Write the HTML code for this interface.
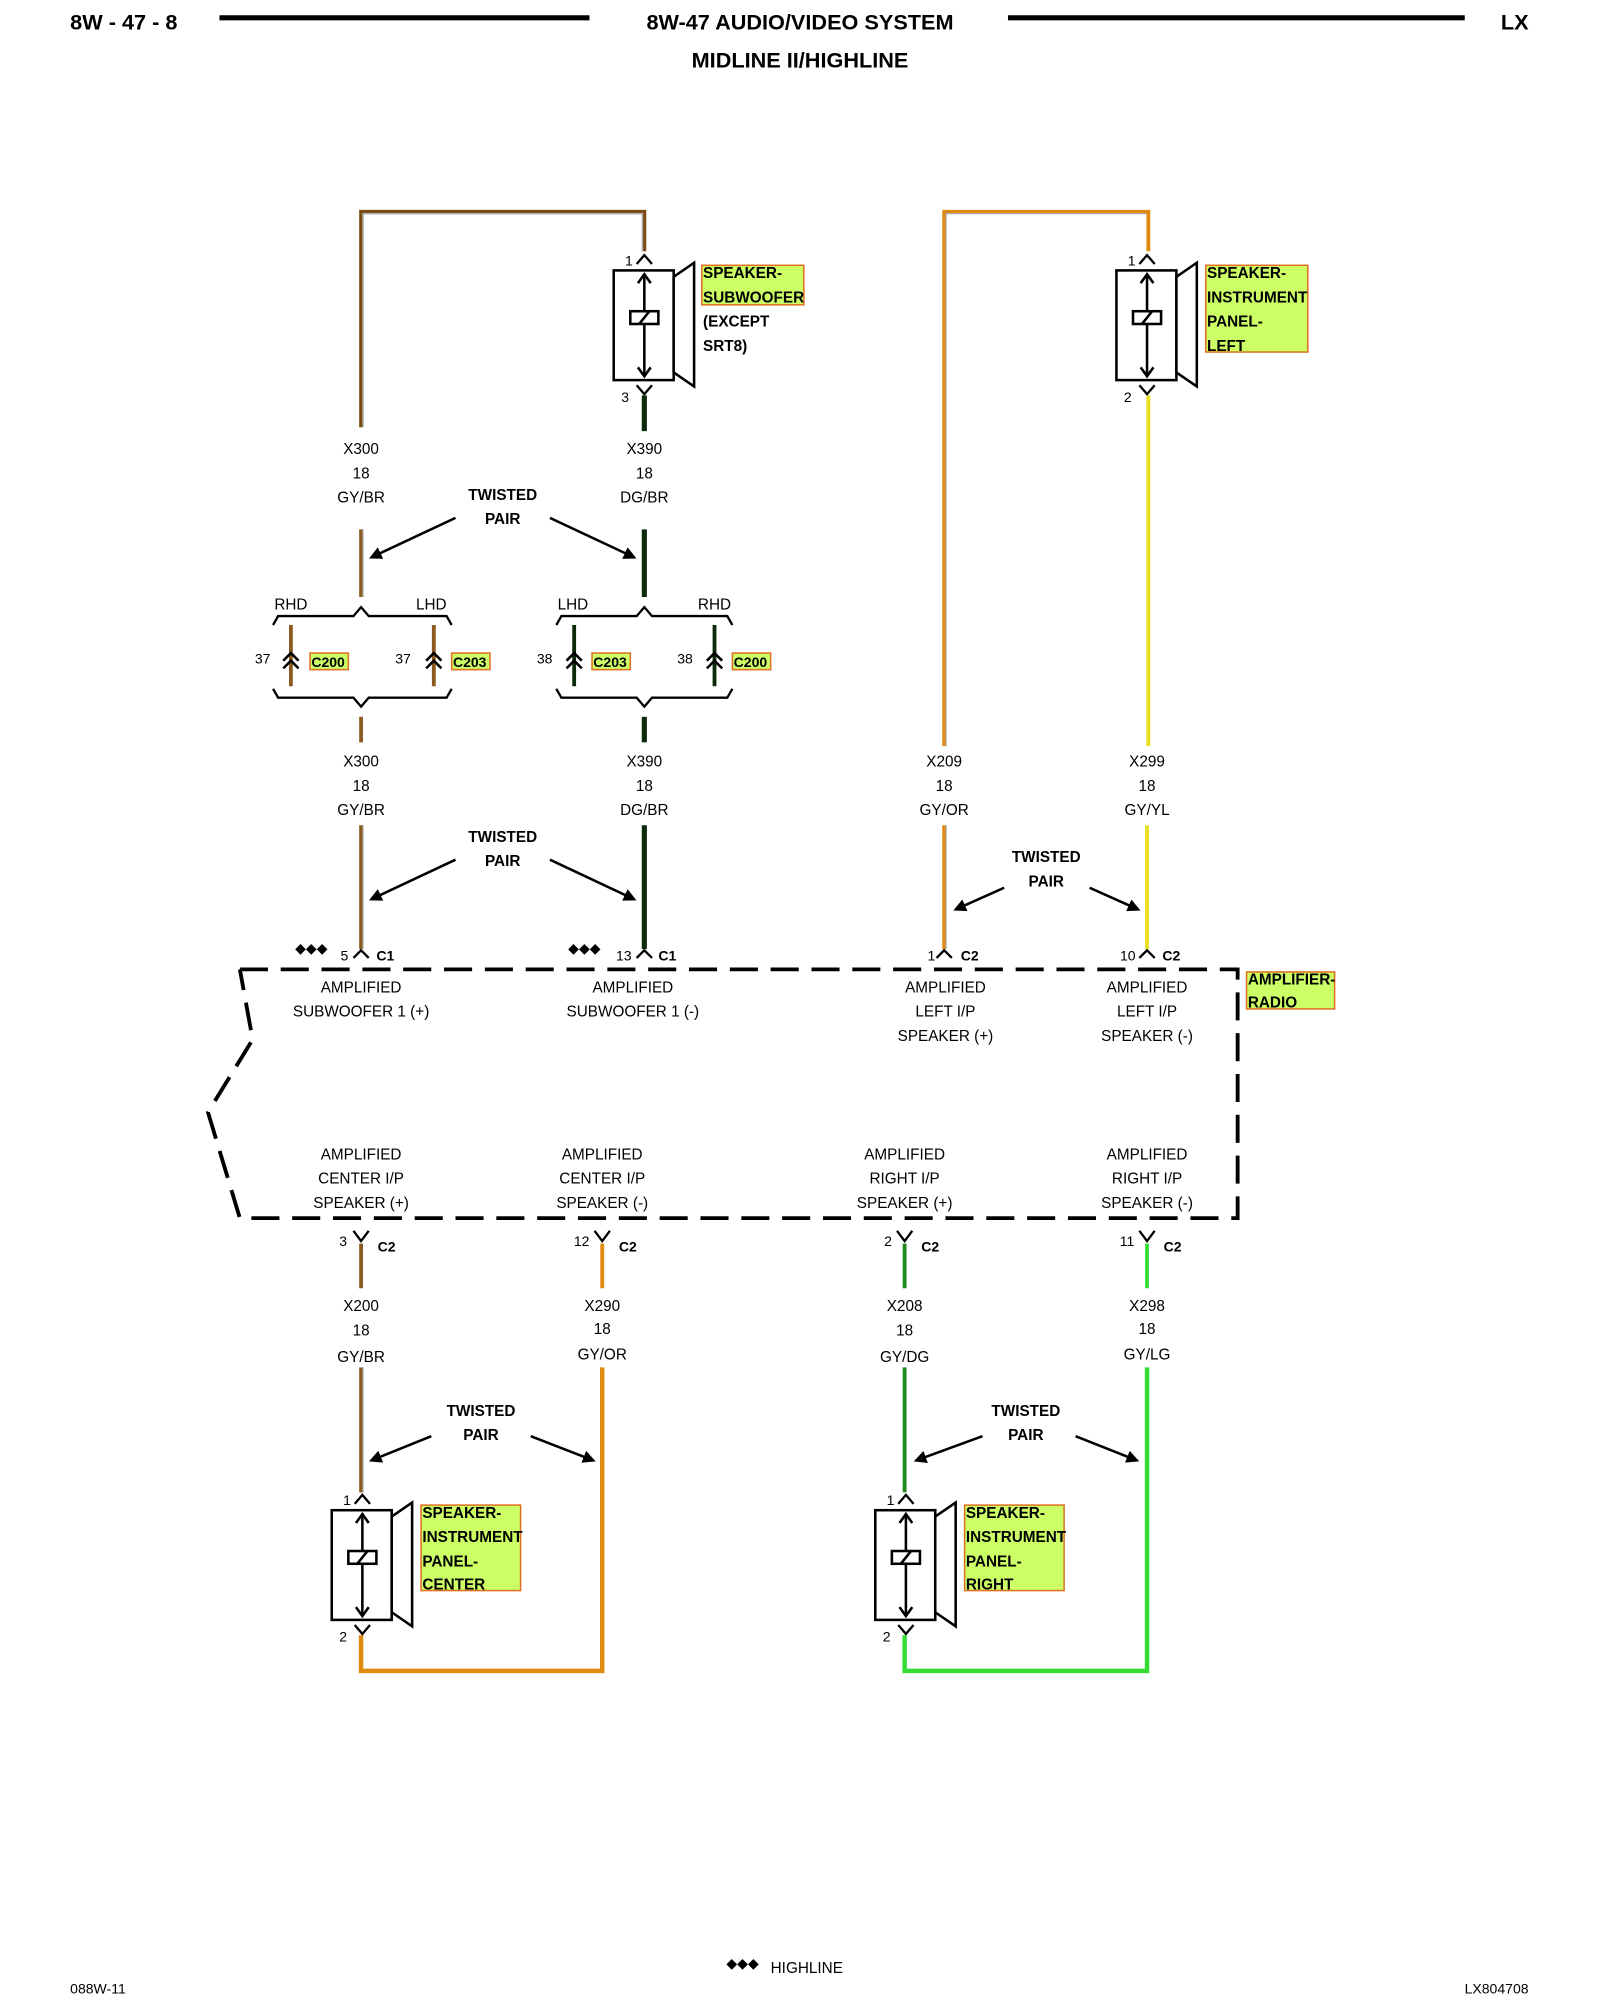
<!DOCTYPE html>
<html><head><meta charset="utf-8"><style>
html,body{margin:0;padding:0;background:#fff;}
svg{display:block;}
text{font-family:"Liberation Sans",sans-serif;fill:#000;}
.l{font-size:12px;text-anchor:middle;}
.b{font-weight:bold;}
.t{font-size:12px;font-weight:bold;text-anchor:middle;}
.k{font-size:11px;}
.lab{font-size:12px;font-weight:bold;}
</style></head><body>
<svg width="1600" height="2000" viewBox="0 0 1254 1568" preserveAspectRatio="none" xmlns="http://www.w3.org/2000/svg">
<defs>
<g id="spk" fill="none" stroke="#000" stroke-width="2">
<rect x="-24" y="0" width="47" height="86" fill="#fff"/>
<polygon points="23,5 39,-6 39,91 23,80" fill="#fff"/>
<line x1="0" y1="3" x2="0" y2="83"/>
<polyline points="-5,10 0,3 5,10"/>
<polyline points="-5,76 0,83 5,76"/>
<rect x="-11" y="32" width="22" height="10" fill="#fff"/>
<line x1="-4" y1="42" x2="4" y2="32"/>
</g>
<g id="dc" fill="none" stroke="#000" stroke-width="2">
<polyline points="-6,-2 0,-8 6,-2"/><polyline points="-6,4 0,-2 6,4"/>
</g>
<marker id="ah" markerWidth="10" markerHeight="10" refX="8" refY="5" orient="auto" markerUnits="userSpaceOnUse" viewBox="0 0 10 10"><path d="M0,0 L10,5 L0,10 z" fill="#000"/></marker>
</defs>

<!-- header -->
<text x="55" y="23" class="b" font-size="17">8W - 47 - 8</text>
<line x1="172" y1="14" x2="462" y2="14" stroke="#000" stroke-width="4"/>
<text x="627" y="23" class="b" font-size="17" text-anchor="middle">8W-47 AUDIO/VIDEO SYSTEM</text>
<line x1="790" y1="14" x2="1148" y2="14" stroke="#000" stroke-width="4"/>
<text x="1198" y="23" class="b" font-size="17" text-anchor="end">LX</text>
<text x="627" y="53" class="b" font-size="17" text-anchor="middle">MIDLINE II/HIGHLINE</text>

<g fill="none" stroke-linejoin="miter">
<polyline points="283,335 283,166 505,166 505,197" stroke="#7a4a10" stroke-width="3"/>
<polyline points="284.5,335 284.5,167.5 503.5,167.5 503.5,197" stroke="#aaa" stroke-width="1.2"/>
<line x1="505" y1="310" x2="505" y2="338" stroke="#0a2a0a" stroke-width="4"/>
<line x1="283" y1="415" x2="283" y2="468" stroke="#8a5a20" stroke-width="3"/>
<line x1="284.5" y1="415" x2="284.5" y2="468" stroke="#aaa" stroke-width="1"/>
<line x1="505" y1="415" x2="505" y2="468" stroke="#0a2a0a" stroke-width="4"/>
<line x1="283" y1="562" x2="283" y2="582" stroke="#8a5a20" stroke-width="3"/>
<line x1="505" y1="562" x2="505" y2="582" stroke="#0a2a0a" stroke-width="4"/>
<line x1="283" y1="647" x2="283" y2="744" stroke="#8a5a20" stroke-width="3"/>
<line x1="284.5" y1="647" x2="284.5" y2="744" stroke="#aaa" stroke-width="1"/>
<line x1="505" y1="647" x2="505" y2="744" stroke="#0a2a0a" stroke-width="4"/>
<line x1="228" y1="490" x2="228" y2="538" stroke="#8a5a20" stroke-width="3"/>
<line x1="340" y1="490" x2="340" y2="538" stroke="#8a5a20" stroke-width="3"/>
<line x1="450" y1="490" x2="450" y2="538" stroke="#0a2a0a" stroke-width="3"/>
<line x1="560" y1="490" x2="560" y2="538" stroke="#0a2a0a" stroke-width="3"/>

<polyline points="740,585 740,166 900,166 900,197" stroke="#e08a10" stroke-width="3"/>
<polyline points="741.5,585 741.5,167.5 898.5,167.5" stroke="#aaa" stroke-width="1"/>
<line x1="900" y1="310" x2="900" y2="585" stroke="#e8e020" stroke-width="3"/>
<line x1="740" y1="647" x2="740" y2="744" stroke="#e08a10" stroke-width="3"/>
<line x1="741.5" y1="647" x2="741.5" y2="744" stroke="#aaa" stroke-width="1"/>
<line x1="899" y1="647" x2="899" y2="744" stroke="#e8e020" stroke-width="3"/>

<line x1="283" y1="975" x2="283" y2="1010" stroke="#8a5a20" stroke-width="3"/>
<line x1="472" y1="975" x2="472" y2="1010" stroke="#e08a10" stroke-width="3"/>
<line x1="709" y1="975" x2="709" y2="1010" stroke="#1a8a1a" stroke-width="3"/>
<line x1="899" y1="975" x2="899" y2="1010" stroke="#33dd33" stroke-width="3"/>
<line x1="283" y1="1072" x2="283" y2="1170" stroke="#8a5a20" stroke-width="3"/>
<line x1="284.5" y1="1072" x2="284.5" y2="1170" stroke="#aaa" stroke-width="1"/>
<polyline points="283,1282 283,1310 472,1310 472,1072" stroke="#e08a10" stroke-width="3.5"/>
<line x1="709" y1="1072" x2="709" y2="1170" stroke="#1a8a1a" stroke-width="3"/>
<polyline points="709,1282 709,1310 899,1310 899,1072" stroke="#33dd33" stroke-width="3.5"/>
</g>

<use href="#spk" x="505" y="212"/>
<use href="#spk" x="899" y="212"/>
<use href="#spk" x="284" y="1184"/>
<use href="#spk" x="710" y="1184"/>

<g fill="none" stroke="#000" stroke-width="1.8">
<polyline points="499,207 505,200 511,207"/><polyline points="499,302 505,309 511,302"/>
<polyline points="893,207 899,200 905,207"/><polyline points="893,302 899,309 905,302"/>
<polyline points="278,1179 284,1172 290,1179"/><polyline points="278,1274 284,1281 290,1274"/>
<polyline points="704,1179 710,1172 716,1179"/><polyline points="704,1274 710,1281 716,1274"/>
<polyline points="277,751 283,745 289,751"/><polyline points="499,751 505,745 511,751"/>
<polyline points="734,751 740,745 746,751"/><polyline points="893,751 899,745 905,751"/>
<polyline points="277,965 283,973 289,965"/><polyline points="466,965 472,973 478,965"/>
<polyline points="703,965 709,973 715,965"/><polyline points="893,965 899,973 905,965"/>
</g>
<text x="496" y="208" class="k" text-anchor="end">1</text>
<text x="493" y="315" class="k" text-anchor="end">3</text>
<text x="890" y="208" class="k" text-anchor="end">1</text>
<text x="887" y="315" class="k" text-anchor="end">2</text>
<text x="275" y="1180" class="k" text-anchor="end">1</text>
<text x="272" y="1287" class="k" text-anchor="end">2</text>
<text x="701" y="1180" class="k" text-anchor="end">1</text>
<text x="698" y="1287" class="k" text-anchor="end">2</text>

<g fill="#ccff66" stroke="#e07020" stroke-width="1.2">
<rect x="550" y="208" width="80" height="31"/>
<rect x="945" y="208" width="80" height="68"/>
<rect x="977" y="762" width="69" height="29"/>
<rect x="330" y="1180" width="78" height="67"/>
<rect x="756" y="1180" width="78" height="67"/>
<rect x="243" y="512" width="30" height="13"/>
<rect x="354" y="512" width="30" height="13"/>
<rect x="464" y="512" width="30" height="13"/>
<rect x="574" y="512" width="30" height="13"/>
</g>
<g class="lab">
<text x="551" y="218" class="lab">SPEAKER-</text>
<text x="551" y="237" class="lab">SUBWOOFER</text>
<text x="551" y="256" class="lab">(EXCEPT</text>
<text x="551" y="275" class="lab">SRT8)</text>
<text x="946" y="218" class="lab">SPEAKER-</text>
<text x="946" y="237" class="lab">INSTRUMENT</text>
<text x="946" y="256" class="lab">PANEL-</text>
<text x="946" y="275" class="lab">LEFT</text>
<text x="978" y="772" class="lab">AMPLIFIER-</text>
<text x="978" y="790" class="lab">RADIO</text>
<text x="331" y="1190" class="lab">SPEAKER-</text>
<text x="331" y="1209" class="lab">INSTRUMENT</text>
<text x="331" y="1228" class="lab">PANEL-</text>
<text x="331" y="1246" class="lab">CENTER</text>
<text x="757" y="1190" class="lab">SPEAKER-</text>
<text x="757" y="1209" class="lab">INSTRUMENT</text>
<text x="757" y="1228" class="lab">PANEL-</text>
<text x="757" y="1246" class="lab">RIGHT</text>
<text x="244" y="523" font-size="11" font-weight="bold">C200</text>
<text x="355" y="523" font-size="11" font-weight="bold">C203</text>
<text x="465" y="523" font-size="11" font-weight="bold">C203</text>
<text x="575" y="523" font-size="11" font-weight="bold">C200</text>
</g>

<g class="l">
<text x="283" y="356" class="l">X300</text><text x="283" y="375" class="l">18</text><text x="283" y="394" class="l">GY/BR</text>
<text x="505" y="356" class="l">X390</text><text x="505" y="375" class="l">18</text><text x="505" y="394" class="l">DG/BR</text>
<text x="283" y="601" class="l">X300</text><text x="283" y="620" class="l">18</text><text x="283" y="639" class="l">GY/BR</text>
<text x="505" y="601" class="l">X390</text><text x="505" y="620" class="l">18</text><text x="505" y="639" class="l">DG/BR</text>
<text x="740" y="601" class="l">X209</text><text x="740" y="620" class="l">18</text><text x="740" y="639" class="l">GY/OR</text>
<text x="899" y="601" class="l">X299</text><text x="899" y="620" class="l">18</text><text x="899" y="639" class="l">GY/YL</text>
<text x="283" y="1028" class="l">X200</text><text x="283" y="1047" class="l">18</text><text x="283" y="1068" class="l">GY/BR</text>
<text x="472" y="1028" class="l">X290</text><text x="472" y="1046" class="l">18</text><text x="472" y="1066" class="l">GY/OR</text>
<text x="709" y="1028" class="l">X208</text><text x="709" y="1047" class="l">18</text><text x="709" y="1068" class="l">GY/DG</text>
<text x="899" y="1028" class="l">X298</text><text x="899" y="1046" class="l">18</text><text x="899" y="1066" class="l">GY/LG</text>
</g>

<text x="394" y="392" class="t">TWISTED</text><text x="394" y="411" class="t">PAIR</text>
<text x="394" y="660" class="t">TWISTED</text><text x="394" y="679" class="t">PAIR</text>
<text x="820" y="676" class="t">TWISTED</text><text x="820" y="695" class="t">PAIR</text>
<text x="377" y="1110" class="t">TWISTED</text><text x="377" y="1129" class="t">PAIR</text>
<text x="804" y="1110" class="t">TWISTED</text><text x="804" y="1129" class="t">PAIR</text>
<g stroke="#000" stroke-width="2" marker-end="url(#ah)">
<line x1="357" y1="406" x2="291" y2="437"/><line x1="431" y1="406" x2="497" y2="437"/>
<line x1="357" y1="674" x2="291" y2="705"/><line x1="431" y1="674" x2="497" y2="705"/>
<line x1="787" y1="696" x2="749" y2="713"/><line x1="854" y1="696" x2="892" y2="713"/>
<line x1="338" y1="1126" x2="291" y2="1145"/><line x1="416" y1="1126" x2="465" y2="1145"/>
<line x1="770" y1="1126" x2="718" y2="1145"/><line x1="843" y1="1126" x2="891" y2="1145"/>
</g>

<g fill="none" stroke="#000" stroke-width="1.8">
<polyline points="214,490 218,483 277,483 283,476 289,483 350,483 354,490"/>
<polyline points="214,540 218,547 277,547 283,554 289,547 350,547 354,540"/>
<polyline points="436,490 440,483 499,483 505,476 511,483 570,483 574,490"/>
<polyline points="436,540 440,547 499,547 505,554 511,547 570,547 574,540"/>
</g>
<use href="#dc" x="228" y="520"/><use href="#dc" x="340" y="520"/>
<use href="#dc" x="450" y="520"/><use href="#dc" x="560" y="520"/>
<g class="k">
<text x="228" y="478" class="l">RHD</text><text x="338" y="478" class="l">LHD</text>
<text x="449" y="478" class="l">LHD</text><text x="560" y="478" class="l">RHD</text>
<text x="212" y="520" class="k" text-anchor="end">37</text>
<text x="322" y="520" class="k" text-anchor="end">37</text>
<text x="433" y="520" class="k" text-anchor="end">38</text>
<text x="543" y="520" class="k" text-anchor="end">38</text>
</g>

<text x="244" y="747" font-size="11" text-anchor="middle">◆◆◆</text>
<text x="458" y="747" font-size="11" text-anchor="middle">◆◆◆</text>
<text x="273" y="753" class="k" text-anchor="end">5</text><text x="295" y="753" class="k b">C1</text>
<text x="495" y="753" class="k" text-anchor="end">13</text><text x="516" y="753" class="k b">C1</text>
<text x="733" y="753" class="k" text-anchor="end">1</text><text x="753" y="753" class="k b">C2</text>
<text x="890" y="753" class="k" text-anchor="end">10</text><text x="911" y="753" class="k b">C2</text>
<text x="272" y="977" class="k" text-anchor="end">3</text><text x="296" y="981" class="k b">C2</text>
<text x="462" y="977" class="k" text-anchor="end">12</text><text x="485" y="981" class="k b">C2</text>
<text x="699" y="977" class="k" text-anchor="end">2</text><text x="722" y="981" class="k b">C2</text>
<text x="889" y="977" class="k" text-anchor="end">11</text><text x="912" y="981" class="k b">C2</text>

<polyline points="188,760 970,760 970,955 188,955 163,872 198,815 188,760" fill="none" stroke="#000" stroke-width="3" stroke-dasharray="22,10"/>
<g class="l">
<text x="283" y="778" class="l">AMPLIFIED</text><text x="283" y="797" class="l">SUBWOOFER 1 (+)</text>
<text x="496" y="778" class="l">AMPLIFIED</text><text x="496" y="797" class="l">SUBWOOFER 1 (-)</text>
<text x="741" y="778" class="l">AMPLIFIED</text><text x="741" y="797" class="l">LEFT I/P</text><text x="741" y="816" class="l">SPEAKER (+)</text>
<text x="899" y="778" class="l">AMPLIFIED</text><text x="899" y="797" class="l">LEFT I/P</text><text x="899" y="816" class="l">SPEAKER (-)</text>
<text x="283" y="909" class="l">AMPLIFIED</text><text x="283" y="928" class="l">CENTER I/P</text><text x="283" y="947" class="l">SPEAKER (+)</text>
<text x="472" y="909" class="l">AMPLIFIED</text><text x="472" y="928" class="l">CENTER I/P</text><text x="472" y="947" class="l">SPEAKER (-)</text>
<text x="709" y="909" class="l">AMPLIFIED</text><text x="709" y="928" class="l">RIGHT I/P</text><text x="709" y="947" class="l">SPEAKER (+)</text>
<text x="899" y="909" class="l">AMPLIFIED</text><text x="899" y="928" class="l">RIGHT I/P</text><text x="899" y="947" class="l">SPEAKER (-)</text>
</g>

<text x="55" y="1563" font-size="11">088W-11</text>
<text x="582" y="1543" font-size="11" text-anchor="middle">◆◆◆</text>
<text x="604" y="1547" font-size="12">HIGHLINE</text>
<text x="1198" y="1563" font-size="11" text-anchor="end">LX804708</text>
</svg>
</body></html>
